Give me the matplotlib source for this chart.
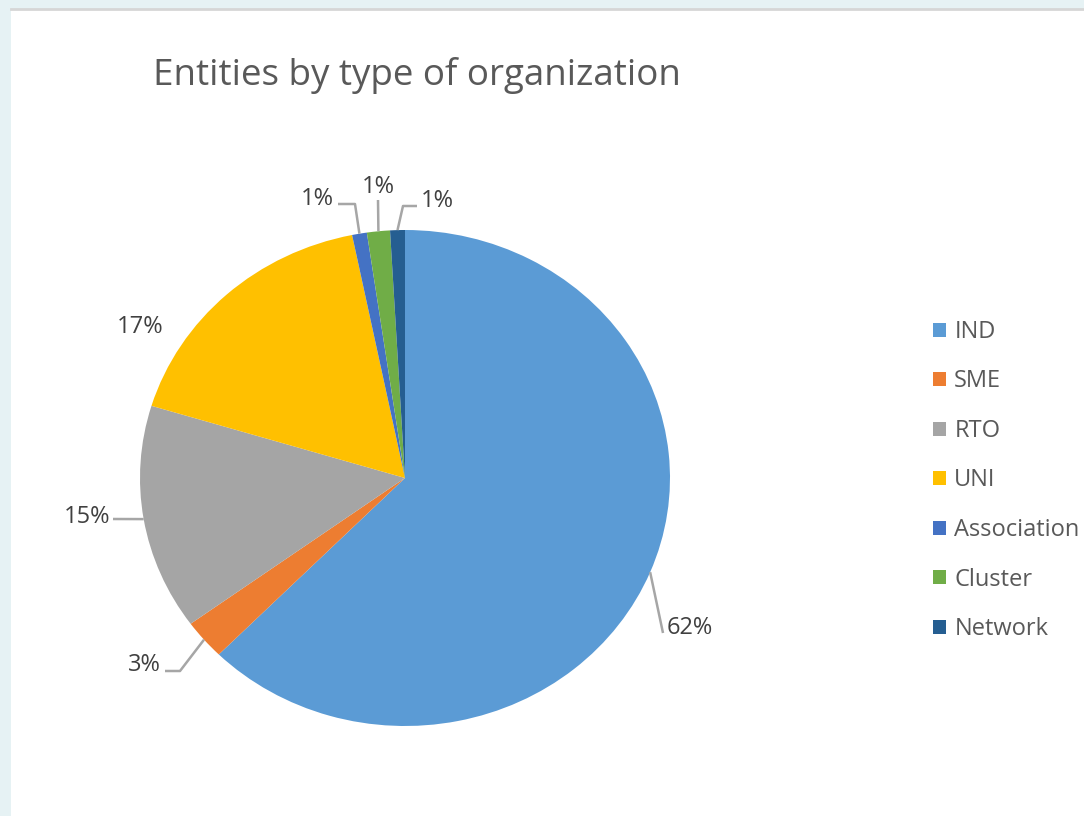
import matplotlib.pyplot as plt
import numpy as np
from matplotlib.patches import Rectangle

plt.rcParams['font.family'] = ['Open Sans', 'DejaVu Sans']

categories = ["IND", "SME", "RTO", "UNI", "Association", "Cluster", "Network"]
shares = [62.4, 2.6, 14.7, 17.1, 0.9, 1.4, 0.9]
colors = ["#5B9BD5", "#ED7D31", "#A5A5A5", "#FFC000", "#4472C4", "#70AD47", "#255E91"]

W, H = 1084, 816
fig = plt.figure(figsize=(W / 100, H / 100), dpi=100)
fig.patch.set_facecolor("#e6f2f4")

# white chart panel
bg = fig.add_axes([11 / W, 0, 1 - 11 / W, 1 - 9 / H], zorder=-5)
bg.set_facecolor("white")
bg.set_xticks([])
bg.set_yticks([])
for s in ["left", "right", "bottom"]:
    bg.spines[s].set_visible(False)
bg.spines["top"].set_color("#d6d6d6")
bg.spines["top"].set_linewidth(2)

# pie box in pixels
cx, cy, rx, ry = 405, 478, 265, 248
ax = fig.add_axes([(cx - rx) / W, (H - cy - ry) / H, 2 * rx / W, 2 * ry / H])
wedges, _ = ax.pie(shares, colors=colors, startangle=90, counterclock=False,
                   wedgeprops=dict(linewidth=0))
ax.set_aspect("auto")
ax.set_xlim(-1, 1)
ax.set_ylim(-1, 1)
ax.axis("off")


def px(x, y):
    return ((x - cx) / rx, (cy - y) / ry)


def edge(w):
    a = np.deg2rad((w.theta1 + w.theta2) / 2)
    return (np.cos(a), np.sin(a))


labels = [f"{round(v)}%" for v in shares]
txt_kw = dict(fontsize=17, color="#404040", va="center")
lc = "#a6a6a6"

# (leader path points after edge anchor, text pos, ha)
layout = [
    ([(663, 633)], (667, 628), "left"),
    ([(180, 671), (165, 671)], (161, 665), "right"),
    ([(113, 519)], (110, 517), "right"),
    (None, (140, 327), "center"),
    ([(355, 204), (338, 204)], (334, 199), "right"),
    ([(378, 200)], (378, 187), "center"),
    ([(403, 206), (417, 206)], (421, 201), "left"),
]

for w, lab, (path, tpos, ha) in zip(wedges, labels, layout):
    if path:
        pts = [edge(w)] + [px(*p) for p in path]
        xs, ys = zip(*pts)
        ax.plot(xs, ys, color=lc, lw=1.8, clip_on=False, solid_capstyle="butt")
    ax.text(*px(*tpos), lab, ha=ha, clip_on=False, **txt_kw)

fig.text(153 / W, 1 - 75 / H, "Entities by type of organization", fontsize=26.5,
         color="#595959", va="center", ha="left")

handles = [Rectangle((0, 0), 1, 1, facecolor=c, edgecolor="none") for c in colors]
fig.legend(handles, categories, loc="upper left", bbox_to_anchor=(933 / W, 1 - 320 / H),
           frameon=False, fontsize=17, labelcolor="#595959", handlelength=0.55,
           handleheight=0.55, handletextpad=0.35, labelspacing=1.08, borderaxespad=0,
           borderpad=0)

fig.savefig("out.png", dpi=100, facecolor=fig.get_facecolor())
